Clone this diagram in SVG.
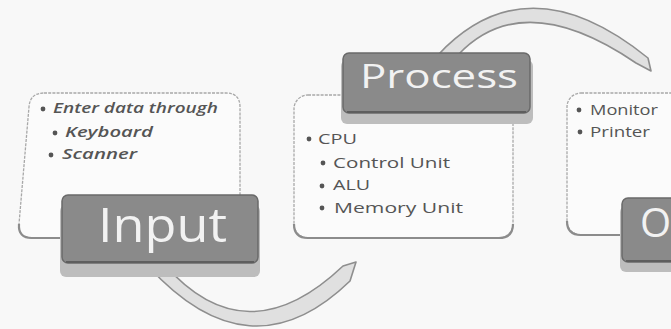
<svg xmlns="http://www.w3.org/2000/svg" width="671" height="329" viewBox="0 0 671 329">
  <defs>
    <style>
      .box { fill: #fbfbfb; stroke: #a8a8a8; stroke-width: 1.3; stroke-dasharray: 3 1.2; }
      .boxshade { fill: none; stroke: #8c8c8c; stroke-width: 2.2; }
      .btnshadow { fill: #bdbdbd; }
      .btn { fill: #8a8a8a; stroke: #6a6a6a; stroke-width: 1.5; }
      .btnline { fill: none; stroke: #5e5e5e; stroke-width: 2; }
      .btntext { font-family: "Open Sans", "Liberation Sans", sans-serif; fill: #f2f2f2; }
      .item { font-family: "Open Sans", "Liberation Sans", sans-serif; font-size: 14px; fill: #555555; }
      .ital { font-style: italic; font-weight: 600; }
      .bullet { fill: #555555; }
      .arrow { fill: #e0e0e0; stroke: #8e8e8e; stroke-width: 1.6; stroke-linejoin: round; }
    </style>
  </defs>
  <rect x="0" y="0" width="671" height="329" fill="#f8f8f8"/>

  <g id="connectors">
    <path class="arrow" d="M 438 55 Q 527 -40 648 58 L 651 71 L 636 63 Q 523 -14 458 55 Z"/>
    <path class="arrow" d="M 148 266 Q 250 378 350 281 L 356 262 L 343 266 Q 246 358 164 264 Z"/>
  </g>

  <g id="input">
    <path class="box" d="M 44 93 L 226 93 Q 240 93 240 107 L 240 224 Q 240 238 226 238 L 32 238 Q 18 238 19 224 L 29 107 Q 30 93 44 93 Z"/>
    <path class="boxshade" d="M 19 224 Q 18 238 32 238 L 226 238"/>
    <circle class="bullet" cx="43" cy="109" r="2.4"/>
    <text class="item ital" x="53" y="113" textLength="165" lengthAdjust="spacingAndGlyphs">Enter data through</text>
    <circle class="bullet" cx="55" cy="133" r="2.4"/>
    <text class="item ital" x="65" y="137" textLength="88" lengthAdjust="spacingAndGlyphs">Keyboard</text>
    <circle class="bullet" cx="51" cy="155" r="2.4"/>
    <text class="item ital" x="62" y="159" textLength="75" lengthAdjust="spacingAndGlyphs">Scanner</text>
    <rect class="btnshadow" x="60" y="205" width="200" height="72" rx="6"/>
    <rect class="btn" x="62" y="195" width="196" height="68" rx="6"/>
    <path class="btnline" d="M 66 262 L 254 262"/>
    <text class="btntext" x="98" y="242" font-size="48" textLength="129" lengthAdjust="spacingAndGlyphs">Input</text>
  </g>

  <g id="process">
    <rect class="box" x="294" y="95" width="219" height="143" rx="14"/>
    <path class="boxshade" d="M 294 224 Q 294 238 308 238 L 499 238 Q 513 238 513 224"/>
    <circle class="bullet" cx="309" cy="139" r="2.4"/>
    <text class="item" x="318" y="144" textLength="39" lengthAdjust="spacingAndGlyphs">CPU</text>
    <circle class="bullet" cx="323" cy="163" r="2.4"/>
    <text class="item" x="333" y="168" textLength="117" lengthAdjust="spacingAndGlyphs">Control Unit</text>
    <circle class="bullet" cx="322" cy="186" r="2.4"/>
    <text class="item" x="333" y="190" textLength="37" lengthAdjust="spacingAndGlyphs">ALU</text>
    <circle class="bullet" cx="322" cy="208" r="2.4"/>
    <text class="item" x="334" y="213" textLength="129" lengthAdjust="spacingAndGlyphs">Memory Unit</text>
    <rect class="btnshadow" x="341" y="60" width="192" height="64" rx="6"/>
    <rect class="btn" x="343" y="53" width="187" height="60" rx="6"/>
    <path class="btnline" d="M 347 112 L 526 112"/>
    <text class="btntext" x="360" y="88" font-size="32" textLength="158" lengthAdjust="spacingAndGlyphs">Process</text>
  </g>

  <g id="output">
    <rect class="box" x="567" y="93" width="140" height="142" rx="14"/>
    <path class="boxshade" d="M 567 221 Q 567 235 581 235 L 622 235"/>
    <circle class="bullet" cx="579" cy="110" r="2.4"/>
    <text class="item" x="590" y="115" textLength="68" lengthAdjust="spacingAndGlyphs">Monitor</text>
    <circle class="bullet" cx="580" cy="132" r="2.4"/>
    <text class="item" x="590" y="137" textLength="60" lengthAdjust="spacingAndGlyphs">Printer</text>
    <rect class="btnshadow" x="620" y="206" width="80" height="66" rx="6"/>
    <rect class="btn" x="622" y="198" width="80" height="64" rx="6"/>
    <path class="btnline" d="M 626 261 L 700 261"/>
    <text class="btntext" x="640" y="237" font-size="40">Output</text>
  </g>
</svg>
